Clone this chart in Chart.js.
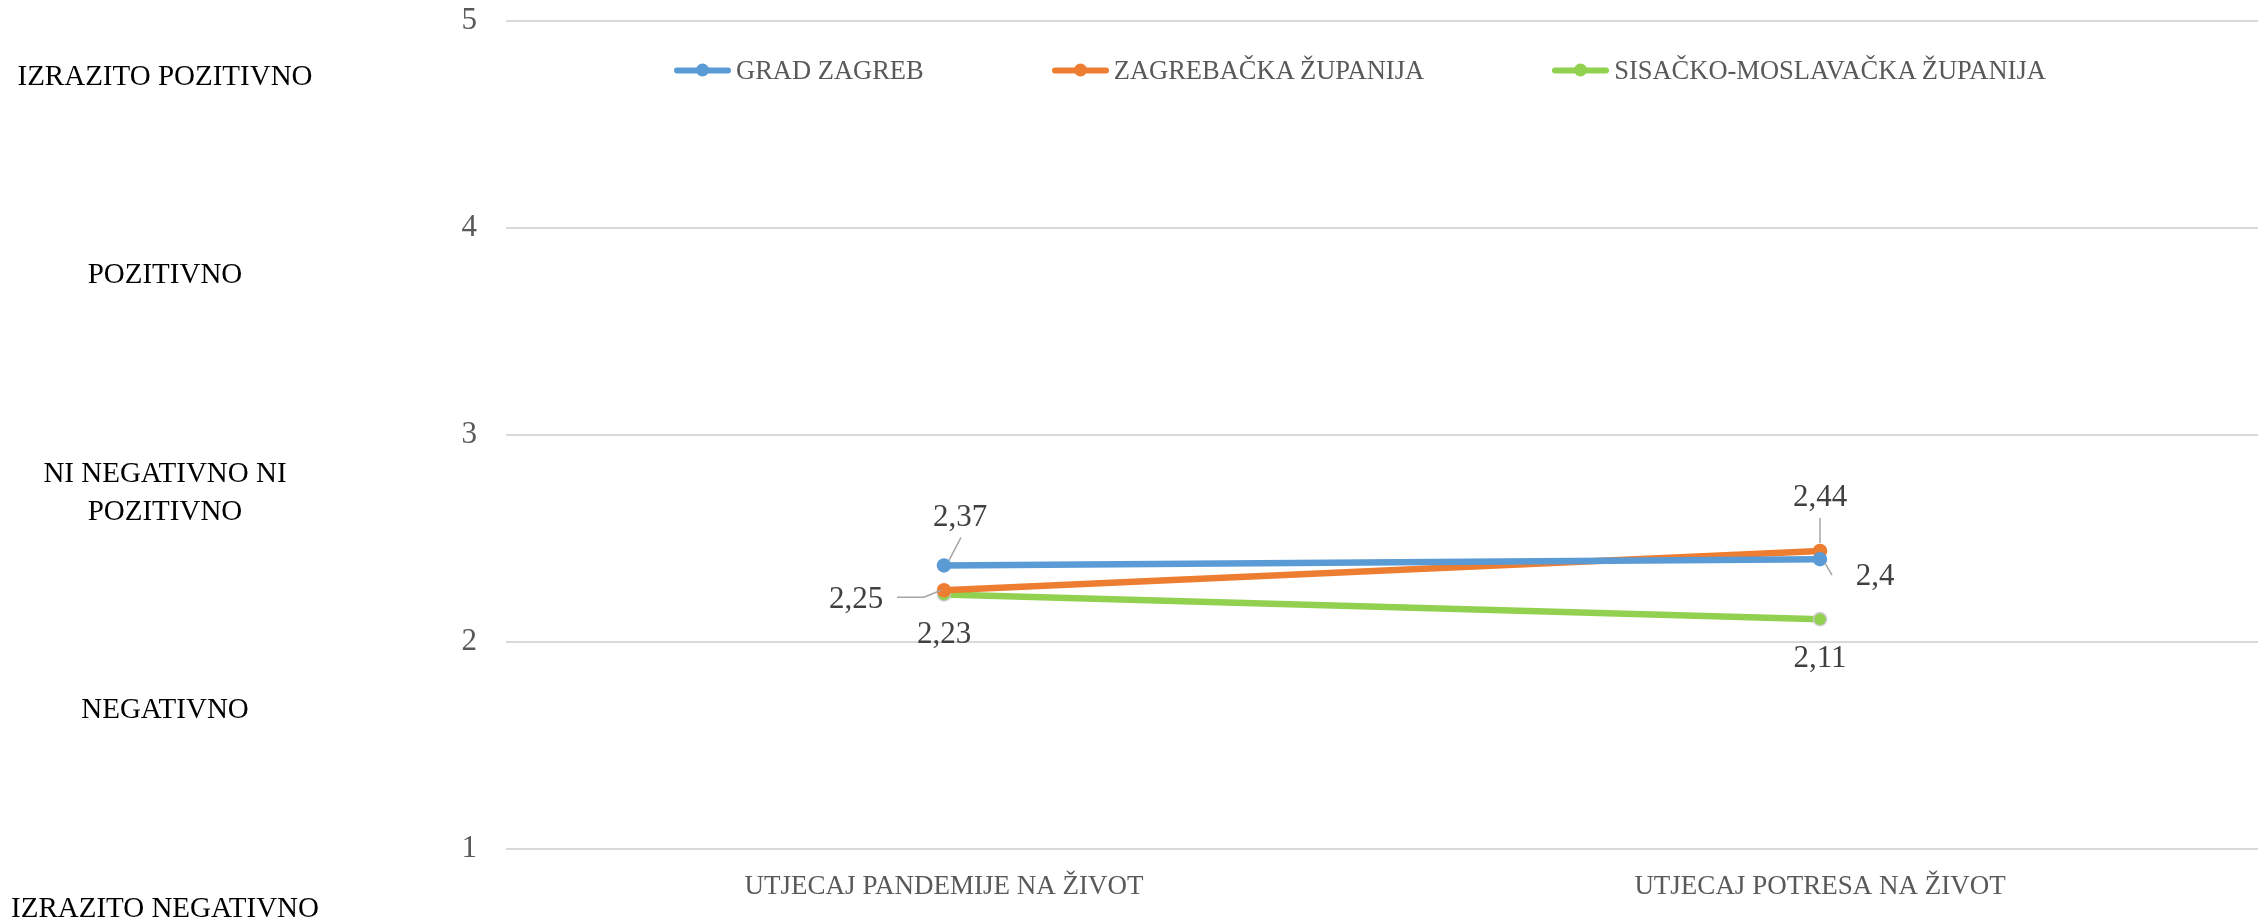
<!DOCTYPE html>
<html>
<head>
<meta charset="utf-8">
<script src="https://cdn.jsdelivr.net/npm/chart.js@4/dist/chart.umd.min.js"></script>
<style>
  html, body { margin: 0; padding: 0; background: #fff; }
  #wrap { position: relative; width: 2266px; height: 922px; font-family: 'Liberation Serif', serif; }
  #wrap canvas { position: absolute; left: 0; top: 0; }
  .side-label {
    position: absolute; width: 330px; left: 0; text-align: center;
    font-size: 29px; line-height: 38px; color: #000; transform: translateY(-50%);
  }
  #legend {
    position: absolute; left: 674px; top: 70px; transform: translateY(-50%);
    display: flex; gap: 128px; align-items: center;
  }
  .leg-item { display: flex; align-items: center; gap: 5px; font-size: 26.5px; color: #595959; }
  .leg-swatch { position: relative; width: 57px; height: 14px; }
  .leg-swatch .ln { position: absolute; left: 0; right: 0; top: 4px; height: 6px; border-radius: 3px; }
  .leg-swatch .dot { position: absolute; left: 22px; top: 0; width: 13px; height: 13px; border-radius: 50%; }
</style>
</head>
<body>
<div id="wrap">
  <canvas id="chart"></canvas>
  <div id="legend"></div>
</div>
<script>
// ---- data ----
const categories = ['UTJECAJ PANDEMIJE NA ŽIVOT', 'UTJECAJ POTRESA NA ŽIVOT'];
const seriesNames = ['GRAD ZAGREB', 'ZAGREBAČKA ŽUPANIJA', 'SISAČKO-MOSLAVAČKA ŽUPANIJA'];
const gradZagreb = [2.37, 2.4];
const zagrebackaZupanija = [2.25, 2.44];
const sisackoMoslavacka = [2.23, 2.11];
const yTicks = [1, 2, 3, 4, 5];
const scaleLabels = ['IZRAZITO POZITIVNO', 'POZITIVNO', 'NI NEGATIVNO NI\nPOZITIVNO', 'NEGATIVNO', 'IZRAZITO NEGATIVNO'];

// ---- styles ----
const colors = ['#5B9BD5', '#ED7D31', '#92D050'];
const pointBorders = ['#5B9BD5', '#ED7D31', '#C9C9C9'];
const scaleLabelY = [75, 273, 491, 708, 907];
// label offset from point centre, and optional leader line points (relative to point)
const labelOffsets = [
  [{ dx: 16, dy: -48, leader: [[17, -28], [5, -5]] }, { dx: 55, dy: 18, leader: [[12, 16], [5, 4]] }],
  [{ dx: -88, dy: 10, leader: [[-47, 7], [-20, 7], [-3, 0]] }, { dx: 0, dy: -53, leader: [[0, -33], [0, -8]] }],
  [{ dx: 0, dy: 40 }, { dx: 0, dy: 40 }],
];

const FONT = 'Liberation Serif';

// side labels (scale meaning)
const wrap = document.getElementById('wrap');
scaleLabels.forEach((t, i) => {
  const d = document.createElement('div');
  d.className = 'side-label';
  d.style.top = scaleLabelY[i] + 'px';
  d.innerHTML = t.replace('\n', '<br>');
  wrap.appendChild(d);
});

// legend
const legend = document.getElementById('legend');
seriesNames.forEach((name, i) => {
  legend.insertAdjacentHTML('beforeend', `
    <div class="leg-item">
      <div class="leg-swatch"><div class="ln" style="background:${colors[i]}"></div><div class="dot" style="background:${colors[i]}"></div></div>
      <span>${name}</span>
    </div>`);
});

const valueLabels = {
  id: 'valueLabels',
  afterDatasetsDraw(chart) {
    const ctx = chart.ctx;
    ctx.save();
    ctx.font = `31px "${FONT}"`;
    ctx.textAlign = 'center';
    ctx.textBaseline = 'middle';
    chart.data.datasets.forEach((ds, di) => {
      const meta = chart.getDatasetMeta(di);
      meta.data.forEach((pt, i) => {
        const o = labelOffsets[di][i];
        if (o.leader) {
          ctx.strokeStyle = '#A6A6A6';
          ctx.lineWidth = 1.5;
          ctx.beginPath();
          o.leader.forEach(([lx, ly], k) => {
            k === 0 ? ctx.moveTo(pt.x + lx, pt.y + ly) : ctx.lineTo(pt.x + lx, pt.y + ly);
          });
          ctx.stroke();
        }
        ctx.fillStyle = '#404040';
        ctx.fillText(String(ds.data[i]).replace('.', ','), pt.x + o.dx, pt.y + o.dy);
      });
    });
    ctx.restore();
  }
};

const seriesData = [gradZagreb, zagrebackaZupanija, sisackoMoslavacka];

new Chart(document.getElementById('chart'), {
  type: 'line',
  data: {
    labels: categories,
    datasets: seriesData.map((d, i) => ({
      label: seriesNames[i],
      data: d,
      borderColor: colors[i],
      backgroundColor: colors[i],
      borderWidth: 6.5,
      pointRadius: 6.5,
      pointBorderWidth: 1.5,
      pointBorderColor: pointBorders[i],
      tension: 0,
    })),
  },
  options: {
    responsive: true,
    maintainAspectRatio: false,
    animation: false,
    layout: { padding: { top: 21, left: 0, right: 0, bottom: 0 } },
    plugins: {
      legend: { display: false },
      tooltip: { enabled: false },
    },
    scales: {
      x: {
        offset: true,
        grid: { display: false },
        border: { display: false },
        ticks: { color: '#595959', font: { size: 27, family: FONT }, padding: 14, maxRotation: 0 },
        afterFit: (s) => { s.height = 73; s.paddingLeft = 0; s.paddingRight = 0; },
      },
      y: {
        min: 1,
        max: 5,
        afterBuildTicks: (s) => { s.ticks = yTicks.map(v => ({ value: v })); },
        grid: { color: '#D9D9D9', lineWidth: 2, drawTicks: false },
        border: { display: false },
        ticks: { color: '#595959', font: { size: 31, family: FONT }, padding: 29 },
        afterFit: (s) => { s.width = 506; s.paddingTop = 0; s.paddingBottom = 0; },
      },
    },
  },
  plugins: [valueLabels],
});
</script>
</body>
</html>
